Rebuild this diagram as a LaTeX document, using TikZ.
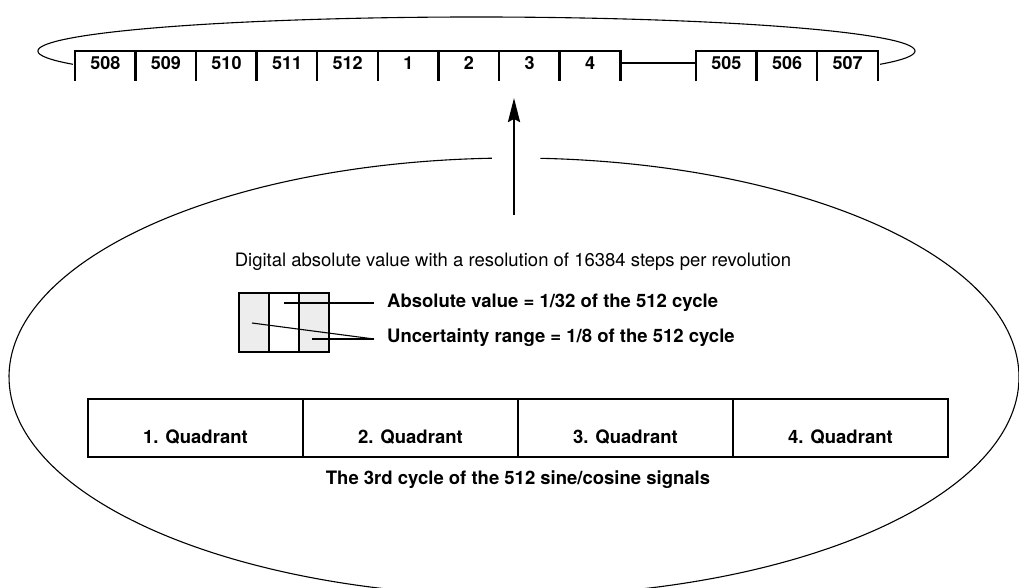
\documentclass[tikz,border=0pt]{standalone}
\usepackage{fontspec}
\setmainfont{TeX Gyre Heros}
\usetikzlibrary{arrows.meta}
\begin{document}
\begin{tikzpicture}[x=1pt,y=1pt,
  strip/.style={line width=2.4pt},
  thinline/.style={line width=1.1pt},
  numcell/.style={minimum width=60.6pt,minimum height=24pt,inner sep=0pt,
    font=\bfseries\fontsize{18}{20}\selectfont},
  numcellb/.style={numcell,minimum width=60.67pt},
  quad/.style={draw,line width=2.4pt,minimum width=215pt,minimum height=58pt,inner sep=0pt},
  qlabel/.style={yshift=-9pt,font=\bfseries\fontsize{18.5}{21}\selectfont},
  seg/.style={draw,line width=2.8pt,minimum width=30pt,minimum height=59pt,inner sep=0pt},
  boldtext/.style={font=\bfseries\fontsize{18.5}{21}\selectfont,inner sep=0pt},
  plaintext/.style={font=\fontsize{18.5}{21}\selectfont,inner sep=0pt},
  bigarrow/.style={line width=2.6pt,-{Stealth[length=24pt,width=12pt,inset=3pt]}}
]
\useasboundingbox (0,-588) rectangle (1019,0);
\clip (0,-588) rectangle (1019,0);

% numbered cells of the code track
\foreach \n [count=\i from 0] in {508,509,510,511,512,1,2,3,4}
  \node[numcell] (c\n) at ({75+60.6*\i+30.3},-63) {\n};
\foreach \n [count=\i from 0] in {505,506,507}
  \node[numcellb] (c\n) at ({696+60.67*\i+30.33},-63) {\n};

% open-bottom outline of the first group
\draw[strip] ([yshift=-6pt]c508.south west) -- (c508.north west)
  -- (c4.north east) -- ([yshift=-6pt]c4.south east);
\foreach \n in {509,510,511,512,1,2,3,4}
  \draw[strip] (c\n.north west) -- ([yshift=-6pt]c\n.south west);
% link between the groups
\draw[strip] (c4.east) -- (c505.west);
% open-bottom outline of the second group
\draw[strip] ([yshift=-6pt]c505.south west) -- (c505.north west)
  -- (c507.north east) -- ([yshift=-6pt]c507.south east);
\foreach \n in {506,507}
  \draw[strip] (c\n.north west) -- ([yshift=-6pt]c\n.south west);

% ring closing the track behind the cells
\draw[thinline] ([shift={(203:438.5pt and 34pt)}]476.5,-51)
  arc[start angle=203,end angle=-23,x radius=438.5pt,y radius=34pt];

% large magnifying outline
\draw[thinline] ([shift={(92.5:505pt and 219pt)}]514,-377)
  arc[start angle=92.5,end angle=447,x radius=505pt,y radius=219pt];

% arrow pointing at cell 3
\coordinate (arrowtail) at (514,-215);
\coordinate (arrowtip) at (514,-98);
\draw[bigarrow] (arrowtail) -- (arrowtip);

% description line
\node[plaintext] (digital) at (513,-262)
  {Digital absolute value with a resolution of 16384 steps per revolution};

% small three-segment box
\node[seg,fill=gray!14] (s1) at (254,-322.5) {};
\node[seg] (s2) at (284,-322.5) {};
\node[seg,fill=gray!14] (s3) at (314,-322.5) {};

\node[boldtext,anchor=west] (abslbl) at (387,-303)
  {Absolute value = 1/32 of the 512 cycle};
\node[boldtext,anchor=west] (unclbl) at (387,-338)
  {Uncertainty range = 1/8 of the 512 cycle};

\coordinate (absin) at (284,-303);
\coordinate (absout) at (374,-303);
\coordinate (uncl) at (252,-323);
\coordinate (uncr) at (312,-339);
\coordinate (uncout) at (374,-339);
\draw[thinline] (absin) -- (absout);
\draw[thinline] (uncl) -- (uncout);
\draw[thinline] (uncr) -- (uncout);

% quadrants of one signal period
\node[quad,label={[qlabel]center:1. Quadrant}] (q1) at (195.5,-428) {};
\node[quad,label={[qlabel]center:2. Quadrant}] (q2) at (410.5,-428) {};
\node[quad,label={[qlabel]center:3. Quadrant}] (q3) at (625.5,-428) {};
\node[quad,label={[qlabel]center:4. Quadrant}] (q4) at (840.5,-428) {};

\node[boldtext] (caption) at (518,-480)
  {The 3rd cycle of the 512 sine/cosine signals};
\end{tikzpicture}
\end{document}
